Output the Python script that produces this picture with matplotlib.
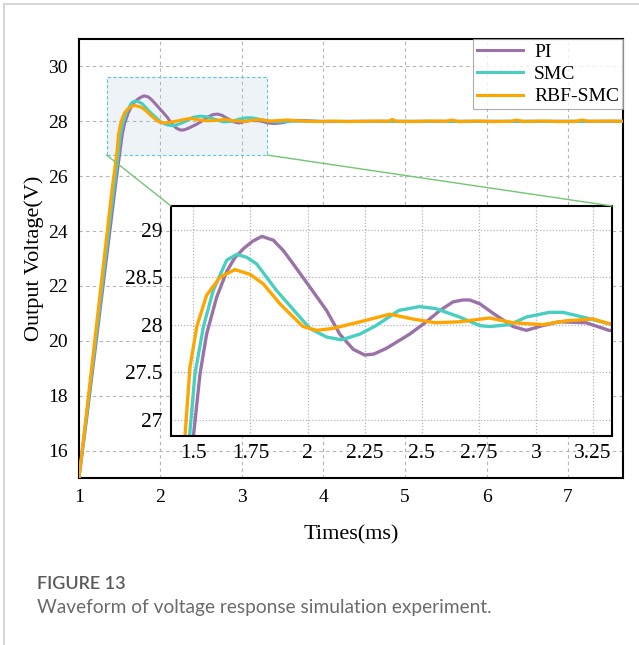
import matplotlib
matplotlib.use("Agg")
import matplotlib.pyplot as plt
from matplotlib.patches import Rectangle, ConnectionPatch
from matplotlib.lines import Line2D

plt.rcParams['font.family'] = ['Liberation Serif', 'DejaVu Serif']

# output voltage samples (time in ms, voltage in V)
t_pi = [1.0, 1.1, 1.2, 1.3, 1.4, 1.45, 1.5, 1.529, 1.558, 1.602, 1.646, 1.68,
        1.719, 1.76, 1.80, 1.85, 1.894, 1.937, 2.0, 2.083, 2.141, 2.2, 2.25,
        2.29, 2.345, 2.447, 2.52, 2.58, 2.637, 2.68, 2.71, 2.754, 2.812, 2.9,
        2.958, 3.03, 3.10, 3.22, 3.32, 3.4, 3.5, 3.6, 3.75, 4.0, 4.5, 5.0,
        5.5, 6.0, 6.5, 7.0, 7.7]
v_pi = [15.0, 17.3, 19.7, 22.1, 24.5, 25.7, 26.82, 27.48, 27.90, 28.29, 28.56,
        28.70, 28.80, 28.88, 28.93, 28.89, 28.78, 28.64, 28.43, 28.15, 27.90,
        27.74, 27.68, 27.69, 27.75, 27.90, 28.03, 28.15, 28.24, 28.26, 28.26,
        28.22, 28.12, 27.98, 27.94, 27.99, 28.03, 28.02, 27.94, 27.92, 27.95,
        28.02, 28.03, 27.99, 28.0, 28.0, 28.0, 28.0, 28.0, 28.0, 28.0]

t_smc = [1.0, 1.2, 1.4, 1.483, 1.507, 1.544, 1.587, 1.646, 1.69, 1.733, 1.777,
         1.864, 1.966, 2.01, 2.083, 2.149, 2.229, 2.30, 2.40, 2.49, 2.56,
         2.666, 2.754, 2.797, 2.885, 2.958, 3.06, 3.118, 3.205, 3.32, 3.45,
         3.6, 4.0, 5.0, 6.0, 7.0, 7.7]
v_smc = [15.0, 19.9, 24.9, 26.82, 27.48, 27.98, 28.36, 28.68, 28.74, 28.71,
         28.64, 28.36, 28.08, 27.96, 27.87, 27.84, 27.90, 27.99, 28.15, 28.19,
         28.17, 28.08, 27.99, 27.98, 28.0, 28.08, 28.13, 28.13, 28.08, 28.01,
         27.98, 28.01, 28.0, 28.0, 28.0, 28.0, 28.0]

t_rbf = [1.0, 1.2, 1.4, 1.464, 1.485, 1.515, 1.558, 1.617, 1.682, 1.748, 1.806,
         1.879, 1.908, 1.98, 2.04, 2.11, 2.23, 2.36, 2.46, 2.56, 2.666, 2.797,
         2.9, 3.03, 3.13, 3.25, 3.32, 3.4, 3.55, 3.7, 3.9, 4.1, 4.3, 4.5, 4.7,
         4.8, 4.84, 4.9, 5.1, 5.3, 5.5, 5.58, 5.65, 5.9, 6.1, 6.3, 6.37, 6.45,
         6.7, 6.9, 7.1, 7.17, 7.25, 7.5, 7.7]
v_rbf = [15.0, 20.2, 25.4, 26.85, 27.55, 27.98, 28.31, 28.50, 28.58, 28.53,
         28.43, 28.22, 28.15, 27.98, 27.94, 27.96, 28.03, 28.11, 28.06, 28.02,
         28.03, 28.07, 28.02, 28.0, 28.04, 28.06, 28.01, 28.02, 28.05, 28.02,
         27.99, 28.01, 27.99, 28.0, 28.01, 28.0, 28.07, 28.0, 27.99, 28.01,
         28.0, 28.05, 27.99, 28.01, 27.99, 28.0, 28.05, 27.99, 28.01, 27.99,
         28.0, 28.05, 28.0, 28.01, 28.0]

labels = ['PI', 'SMC', 'RBF-SMC']
colors = ['#9b72a8', '#48cfc2', '#ffa500']

# zoomed window: (x0, y0, width, height)
zoom_box = (1.34, 26.77, 1.97, 2.83)

fig = plt.figure(figsize=(6.39, 6.45), dpi=100)

# card outline
fig.add_artist(Line2D([4 / 639, 4 / 639], [0, 1 - 4 / 645],
                      color='#cfcfcf', lw=1.2))
fig.add_artist(Line2D([4 / 639, 1], [1 - 4 / 645, 1 - 4 / 645],
                      color='#cfcfcf', lw=1.2))

ax = fig.add_axes([0.1236, 0.2589, 0.8514, 0.6806])
series = [(t_pi, v_pi), (t_smc, v_smc), (t_rbf, v_rbf)]
for (t, v), lab, c in zip(series, labels, colors):
    ax.plot(t, v, color=c, lw=2.2, label=lab, zorder=3)

ax.set_xlim(1, 7.675)
ax.set_ylim(15, 31)
ax.set_xticks([1, 2, 3, 4, 5, 6, 7])
ax.set_yticks([16, 18, 20, 22, 24, 26, 28, 30])
ax.tick_params(length=0, labelsize=14, pad=8)
ax.grid(True, color='#b5b5b5', ls=(0, (3, 3)), lw=0.8)
for s in ax.spines.values():
    s.set_linewidth(1.5)
ax.set_xlabel('Times(ms)', fontsize=16, labelpad=14)
ax.set_ylabel('Output Voltage(V)', fontsize=16, labelpad=3)

ax.add_patch(Rectangle(zoom_box[:2], zoom_box[2], zoom_box[3],
                       facecolor='#e4ebf4', alpha=0.6, edgecolor='none',
                       zorder=1))
ax.add_patch(Rectangle(zoom_box[:2], zoom_box[2], zoom_box[3],
                       facecolor='none', edgecolor='#5cc8e0', lw=0.8,
                       ls=(0, (3, 2)), zorder=2))

leg = ax.legend(loc='upper right', fontsize=14, frameon=True, fancybox=False,
                borderaxespad=0, handlelength=2.4, labelspacing=0.25,
                handletextpad=0.55, borderpad=0.2)
leg.get_frame().set_edgecolor('#999999')
leg.get_frame().set_linewidth(0.8)

# inset with the transient detail
axin = fig.add_axes([0.2676, 0.3245, 0.6901, 0.3561])
for (t, v), c in zip(series, colors):
    axin.plot(t, v, color=c, lw=2.4)
axin.set_xlim(1.402, 3.333)
axin.set_ylim(26.83, 29.25)
axin.set_xticks([1.5, 1.75, 2, 2.25, 2.5, 2.75, 3, 3.25])
axin.set_xticklabels(['1.5', '1.75', '2', '2.25', '2.5', '2.75', '3', '3.25'])
axin.set_yticks([27, 27.5, 28, 28.5, 29])
axin.set_yticklabels(['27', '27.5', '28', '28.5', '29'])
axin.tick_params(length=0, labelsize=15.5, pad=6)
axin.grid(True, color='#b5b5b5', ls=(0, (1, 1.5)), lw=0.9)
for s in axin.spines.values():
    s.set_linewidth(1.5)

for xa, xb in [(zoom_box[0], 0), (zoom_box[0] + zoom_box[2], 1)]:
    con = ConnectionPatch(xyA=(xa, zoom_box[1]), coordsA=ax.transData,
                          xyB=(xb, 1), coordsB=axin.transAxes,
                          color='#72c672', lw=1.0)
    fig.add_artist(con)

fig.text(37 / 639, 1 - 584 / 645, 'FIGURE 13', fontsize=13, color='#595959',
         family='Lato', weight='semibold', va='center')
fig.text(37 / 639, 1 - 608 / 645,
         'Waveform of voltage response simulation experiment.',
         fontsize=13.8, color='#6b6b6b', family='Lato', va='center')

fig.savefig('out.png', dpi=100)
